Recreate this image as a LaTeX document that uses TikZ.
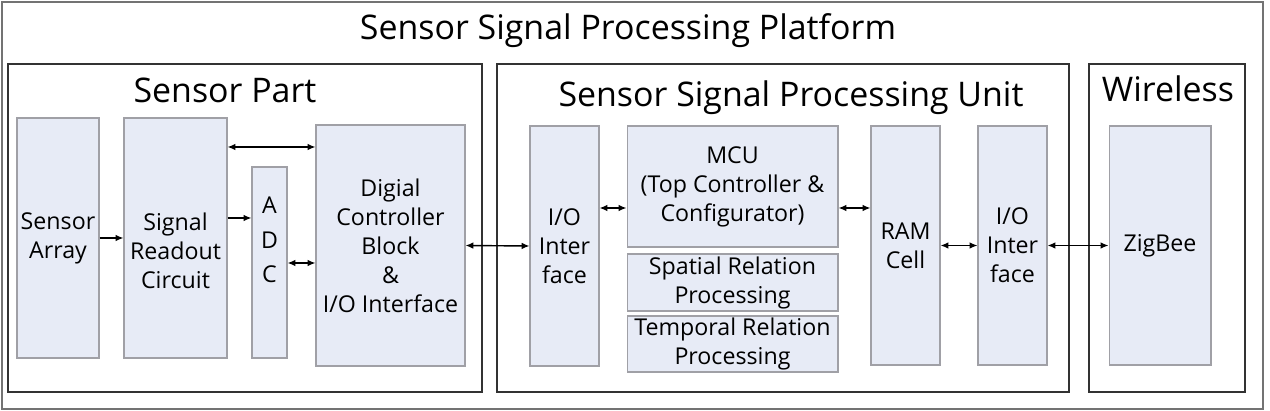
\documentclass[tikz,border=0pt]{standalone}
\usepackage{fontspec}
\setmainfont{Open Sans}
\usetikzlibrary{arrows.meta}
\definecolor{boxfill}{RGB}{231,235,246}
\definecolor{boxline}{RGB}{160,160,166}
\definecolor{groupline}{RGB}{50,50,50}
\tikzset{
  block/.style={draw=boxline,fill=boxfill,line width=0.6pt,inner sep=0pt,align=center,font=\fontsize{13.2}{16.5}\selectfont},
  plain/.style={inner sep=0pt,align=center,font=\fontsize{13.2}{16.5}\selectfont},
  groupbox/.style={draw=groupline,line width=1.2pt,inner sep=0pt},
  ttl/.style={font=\fontsize{19.3}{24}\selectfont,anchor=base,inner sep=0pt},
  link/.style={line width=0.8pt,{Latex[length=4.5pt,width=3.8pt]}-{Latex[length=4.5pt,width=3.8pt]}},
  feed/.style={line width=0.8pt,-{Latex[length=4.5pt,width=3.8pt]}},
}
\begin{document}
\begin{tikzpicture}[x=0.02cm,y=-0.02cm]
        \useasboundingbox (0,0) rectangle (1270,411);
        % frames
        \node[draw=black!55,line width=0.8pt,minimum width=25.22cm,minimum height=8.14cm] (platform) at (632.5,205.5) {};
        \node[groupbox,minimum width=9.48cm,minimum height=6.56cm] (sensor) at (245,228) {};
        \node[groupbox,minimum width=11.44cm,minimum height=6.56cm] (unit) at (783,228) {};
        \node[groupbox,minimum width=3.12cm,minimum height=6.56cm] (wireless) at (1167,228) {};
        \node[ttl] (platformtitle) at (628,40) {Sensor Signal Processing Platform};
        \node[ttl] (sensortitle) at (225,103) {Sensor Part};
        \node[ttl] (unittitle) at (791,107) {Sensor Signal Processing Unit};
        \node[ttl] (wirelesstitle) at (1168,102) {Wireless};
        
        % blocks
        \node[block,minimum width=1.64cm,minimum height=4.8cm] (arr) at (58,238) {Sensor\\Array};
        \node[block,minimum width=2.06cm,minimum height=4.8cm] (sro) at (175.5,238) {};
        \node[plain] (srotext) at (175.5,251) {Signal\\Readout\\Circuit};
        \node[block,minimum width=0.7cm,minimum height=3.82cm] (adc) at (269.5,262.5) {};
        \node[plain,font=\fontsize{13.2}{19.6}\selectfont] (adctext) at (269.5,240) {A\\D\\C};
        \node[block,minimum width=2.98cm,minimum height=4.82cm] (dcb) at (390.5,245.5) {Digial\\Controller\\Block\\\&\\I/O Interface};
        \node[block,minimum width=1.38cm,minimum height=4.8cm] (iol) at (564.5,246) {I/O\\Inter\\face};
        \node[block,minimum width=4.22cm,minimum height=2.42cm] (mcu) at (732.5,186.5) {MCU\\(Top Controller \&\\Configurator)};
        \node[block,minimum width=4.22cm,minimum height=1.14cm] (spatial) at (732.5,282.5) {Spatial Relation\\Processing};
        \node[block,minimum width=4.22cm,minimum height=1.12cm] (temporal) at (732.5,344) {Temporal Relation\\Processing};
        \node[block,minimum width=1.38cm,minimum height=4.78cm] (ram) at (905.5,245.5) {RAM\\Cell};
        \node[block,minimum width=1.38cm,minimum height=4.78cm] (ior) at (1012.5,245.5) {I/O\\Inter\\face};
        \node[block,minimum width=2.04cm,minimum height=4.78cm] (zig) at (1160,245.5) {ZigBee};
        
        % connections
        \draw[feed] (arr.east) -- (sro.west);
        \draw[link] (sro.east |- 0,147) -- (dcb.west |- 0,147);
        \draw[feed] (sro.east |- 0,218) -- (adc.west |- 0,218);
        \draw[link] (adc.east |- 0,263) -- (dcb.west |- 0,263);
        \draw[link] (dcb.east) -- (iol.west);
        \draw[link] (iol.east |- 0,208) -- (mcu.west |- 0,208);
        \draw[link] (mcu.east |- 0,208) -- (ram.west |- 0,208);
        \draw[link] (ram.east) -- (ior.west);
        \draw[link] (ior.east) -- (zig.west);
    \end{tikzpicture}
\end{document}
